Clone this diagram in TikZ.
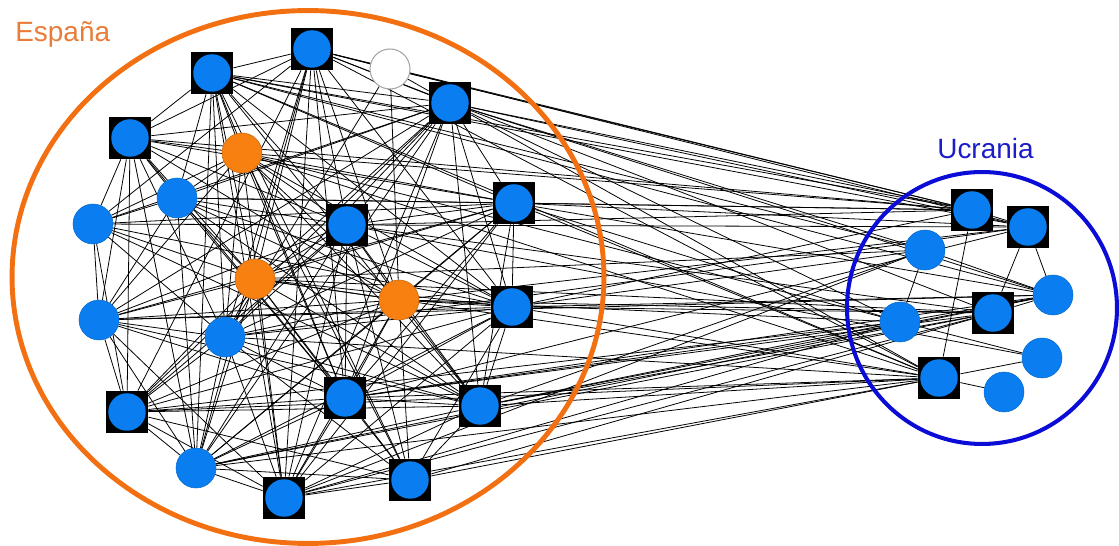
\documentclass[tikz,border=0pt]{standalone}
\usepackage{fontspec}
\setmainfont{Liberation Sans}
\usetikzlibrary{backgrounds}

\definecolor{nodeblue}{RGB}{10,125,240}
\definecolor{nodeorange}{RGB}{248,128,16}
\definecolor{esporange}{RGB}{242,112,18}
\definecolor{esptext}{RGB}{232,124,56}
\definecolor{ukrblue}{RGB}{12,12,215}
\definecolor{ukrtext}{RGB}{28,28,200}

\begin{document}
\begin{tikzpicture}[x=0.02cm,y=-0.02cm,
    grouptext/.style={font=\fontsize{15.9}{19}\selectfont,anchor=base west,inner sep=0pt}]
\tikzset{hub/.style = {rectangle,fill=black,minimum size=0.84cm,inner sep=0pt,
    path picture={\fill[nodeblue] (path picture bounding box.center) circle[radius=0.375cm];}}}
\tikzset{vertex/.style = {circle,fill=nodeblue,draw=nodeblue!85!black,line width=0.3pt,minimum size=0.8cm,inner sep=0pt}}
\tikzset{hot/.style = {vertex,fill=nodeorange,draw=nodeorange!80!black}}
\tikzset{blank/.style = {vertex,fill=white,draw=gray!70,line width=0.6pt}}
\tikzset{link/.style = {line width=0.45pt}}
\useasboundingbox (0,0) rectangle (1119,546);
% groups
\draw[esporange,line width=2.8pt] (308,277) ellipse [x radius=5.92cm,y radius=5.33cm];
\draw[ukrblue,line width=2.3pt] (982,308) ellipse [x radius=2.7cm,y radius=2.72cm];
\node[grouptext,text=esptext] (espana) at (15,42) {España};
\node[grouptext,text=ukrtext] (ucrania) at (937,159) {Ucrania};
% Espana
\node[hub] (s1) at (212,73) {};
\node[hub] (s2) at (312,49) {};
\node[blank] (s3) at (390,69) {};
\node[hub] (s4) at (450,103) {};
\node[hub] (s5) at (130,138) {};
\node[hot] (s6) at (242,153) {};
\node[vertex] (s7) at (177,198) {};
\node[vertex] (s8) at (93,224) {};
\node[hub] (s9) at (347,225) {};
\node[hub] (s10) at (514,203) {};
\node[hot] (s11) at (255,279) {};
\node[hot] (s12) at (399,300) {};
\node[hub] (s13) at (512,307) {};
\node[vertex] (s14) at (99,320) {};
\node[vertex] (s15) at (225,337) {};
\node[hub] (s16) at (345,398) {};
\node[hub] (s17) at (480,406) {};
\node[hub] (s18) at (127,412) {};
\node[vertex] (s19) at (196,468) {};
\node[hub] (s20) at (284,498) {};
\node[hub] (s21) at (410,480) {};
% Ucrania
\node[hub] (u1) at (972,210) {};
\node[hub] (u2) at (1028,227) {};
\node[vertex] (u3) at (925,250) {};
\node[vertex] (u4) at (1053,295) {};
\node[vertex] (u5) at (900,322) {};
\node[hub] (u6) at (993,313) {};
\node[vertex] (u7) at (1042,358) {};
\node[hub] (u8) at (939,378) {};
\node[vertex] (u9) at (1004,392) {};
\begin{scope}[on background layer]
\foreach \a/\bs in {1/{2,4,5,6,7,9,10,11,13,15,16,17,19,20,21},
    2/{3,4,5,8,9,11,12,13,15,16,18,19,20},3/{4,12,15},
    4/{5,7,8,9,10,11,13,14,15,16,17,18,19,20},
    5/{6,7,8,9,10,11,12,14,15,16,18,19},6/{7,8,9,10,12,13,14,15,16,17,20,21},
    7/{8,9,10,11,12,13,14,16,17,19},8/{9,10,11,13,14,15,17,18},
    9/{10,11,12,13,14,15,16,17,18,19,20,21},10/{11,12,13,14,15,16,17,19,20},
    11/{12,13,14,15,16,17,18,19,20,21},12/{13,14,15,16,17,18,19,20,21},
    13/{14,15,16,17,18,19,20,21},14/{15,16,17,18,19,20},15/{16,17,18,19,20,21},
    16/{17,18,19,20,21},17/{18,19,20,21},18/{19,20,21},19/{20,21},20/{21}}
  \foreach \b in \bs \draw[link] (s\a) -- (s\b);
\foreach \u/\bs in {1/{1,2,3,4,5,6,7,9,10,13},2/{1,2,4,9,10,12,15,16},
    3/{1,4,11,13,17,20},4/{1,4,10,13,14,16,17,19},
    5/{4,10,12,16,17,18,20},6/{2,9,11,12,13,16,17,19,20,21},7/{6,9},
    8/{1,2,4,6,10,11,13,15,16,17,18,19,20,21}}
  \foreach \b in \bs \draw[link] (s\b) -- (u\u);
\foreach \a/\b in {1/2,1/8,2/6,2/4,3/5,3/4,6/4,5/4,8/7,8/9}
  \draw[link] (u\a) -- (u\b);
\end{scope}
\end{tikzpicture}
\end{document}
